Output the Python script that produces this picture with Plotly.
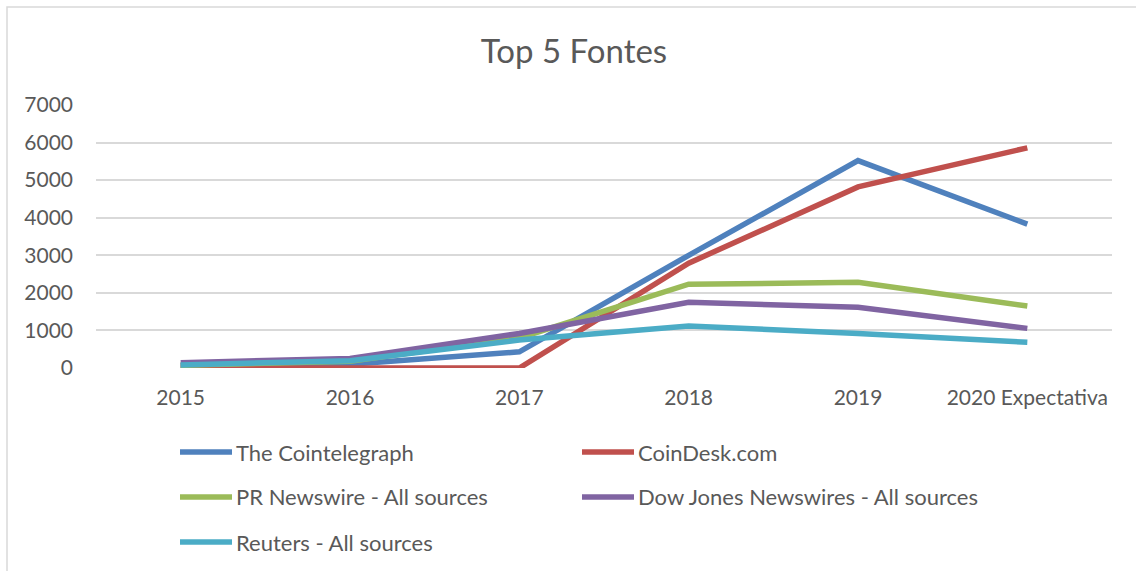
import plotly.graph_objects as go

categories = ["2015", "2016", "2017", "2018", "2019", "2020 Expectativa"]
cointelegraph = [60, 100, 430, 3000, 5520, 3830]
coindesk = [0, 0, 0, 2790, 4820, 5860]
pr_newswire = [70, 180, 800, 2230, 2280, 1650]
dow_jones = [140, 255, 920, 1750, 1615, 1055]
reuters = [80, 195, 745, 1115, 920, 685]

series_names = ["The Cointelegraph", "CoinDesk.com", "PR Newswire - All sources",
                "Dow Jones Newswires - All sources", "Reuters - All sources"]
series_values = [cointelegraph, coindesk, pr_newswire, dow_jones, reuters]
colors = ["#4F81BD", "#C0504D", "#9BBB59", "#8064A2", "#4BACC6"]
y_ticks = [0, 1000, 2000, 3000, 4000, 5000, 6000, 7000]

FONT = "Lato"
TXT = "#595959"
W, H = 1136, 571
margin_l, margin_r, margin_t, margin_b = 96, 24, 105, 203
pw = W - margin_l - margin_r
ph = H - margin_t - margin_b


def px2paper_x(px):
    return (px - margin_l) / pw


def px2paper_y(py):
    return (H - margin_b - py) / ph


fig = go.Figure()
for name, vals, col in zip(series_names, series_values, colors):
    fig.add_trace(go.Scatter(x=categories, y=vals, mode="lines", name=name,
                             line=dict(color=col, width=5.5), showlegend=False))

# manual legend (container px positions)
legend_pos = [(180, 452), (582, 452), (180, 497), (582, 497), (180, 542)]
shapes = []
annotations = []
for (lx, ly), name, col in zip(legend_pos, series_names, colors):
    shapes.append(dict(type="line", xref="paper", yref="paper",
                       x0=px2paper_x(lx), x1=px2paper_x(lx + 52),
                       y0=px2paper_y(ly), y1=px2paper_y(ly),
                       line=dict(color=col, width=5.5)))
    annotations.append(dict(text=name, xref="paper", yref="paper",
                            x=px2paper_x(lx + 54), y=px2paper_y(ly),
                            xanchor="left", yanchor="middle", showarrow=False,
                            font=dict(family=FONT, size=22, color=TXT)))

# outer border (right/bottom edges fall outside the visible page)
shapes.append(dict(type="rect", xref="paper", yref="paper",
                   x0=px2paper_x(7), x1=px2paper_x(1145),
                   y0=px2paper_y(580), y1=px2paper_y(7),
                   line=dict(color="#d9d9d9", width=1.5)))

fig.update_layout(
    width=W, height=H,
    margin=dict(l=margin_l, r=margin_r, t=margin_t, b=margin_b),
    paper_bgcolor="white", plot_bgcolor="white",
    title=dict(text="Top 5 Fontes", x=(574 / W), xanchor="center", xref="container",
               y=1 - 51 / H, yanchor="middle", yref="container",
               font=dict(family=FONT, size=33, color=TXT)),
    font=dict(family=FONT, size=21, color=TXT),
    shapes=shapes, annotations=annotations,
    showlegend=False,
)
fig.update_xaxes(type="category", range=[-0.5, 5.5], showgrid=False, zeroline=False,
                 showline=False, ticks="", ticklabelstandoff=15,
                 tickfont=dict(family=FONT, size=21, color=TXT))
fig.update_yaxes(range=[0, 7000], tickvals=y_ticks, showgrid=True, gridcolor="#d9d9d9",
                 gridwidth=1.5, zeroline=False, showline=False, ticks="",
                 ticklabelstandoff=22, tickfont=dict(family=FONT, size=21, color=TXT))

fig.write_html("out.html")
